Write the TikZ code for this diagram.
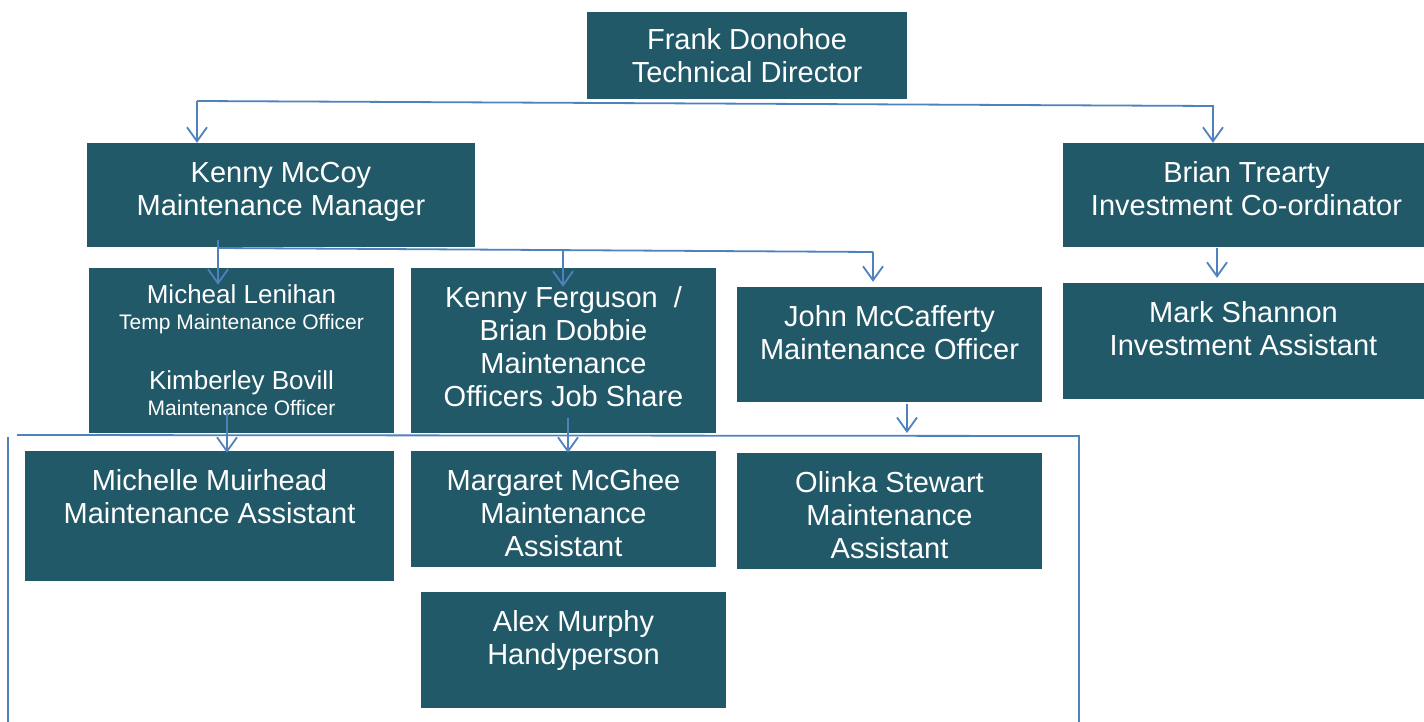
\documentclass[tikz,border=0pt]{standalone}
\usepackage{fontspec}
\setmainfont{Liberation Sans}
\usepackage{xcolor}
\definecolor{box-teal}{RGB}{33,89,104}
\definecolor{link-blue}{RGB}{79,129,189}
\usepackage{tikz}
\usetikzlibrary{arrows.meta}
\newcommand{\boxtext}[4][39.5pt]{\parbox[c][#3][t]{#2}{\centering\rule{0pt}{#1}#4}}
\newcommand{\subrole}[1]{{\fontsize{21}{26}\selectfont #1}}

\begin{document}
\begin{tikzpicture}[x=1pt,y=-1pt,>={Straight Barb[length=14pt,width=20pt]},
	staffbox/.style={fill=box-teal,text=white,inner sep=0pt,
		font=\fontsize{29}{33}\selectfont},
	link/.style={draw=link-blue,line width=1.8pt}]
	\useasboundingbox (0,0) rectangle (1424,722);
	
	\node[staffbox] (frank) at (747,55.5)
		{\boxtext[37.5pt]{320pt}{87pt}{Frank Donohoe\\Technical Director}};
	\node[staffbox] (mccoy) at (281,195)
		{\boxtext{388pt}{104pt}{Kenny McCoy\\Maintenance Manager}};
	\node[staffbox] (trearty) at (1243.5,195)
		{\boxtext{361pt}{104pt}{\hspace*{6pt}Brian Trearty\\\hspace*{6pt}Investment Co-ordinator}};
	\node[staffbox] (shannon) at (1243.5,341)
		{\boxtext{361pt}{116pt}{Mark Shannon\\Investment Assistant}};
	\node[staffbox] (lenihan) at (241.5,350.5)
		{\boxtext[35.5pt]{305pt}{165pt}{\fontsize{26}{26}\selectfont
			Micheal Lenihan\\\subrole{Temp Maintenance Officer}\\[34pt]
			Kimberley Bovill\\\subrole{Maintenance Officer}}};
	\node[staffbox] (ferguson) at (563.5,350.5)
		{\boxtext{305pt}{165pt}{Kenny Ferguson\ \ /\\Brian Dobbie\\
			Maintenance\\Officers Job Share}};
	\node[staffbox] (mccafferty) at (889.5,344.5)
		{\boxtext{305pt}{115pt}{John McCafferty\\Maintenance Officer}};
	\node[staffbox] (muirhead) at (209.5,516)
		{\boxtext{369pt}{130pt}{Michelle Muirhead\\Maintenance Assistant}};
	\node[staffbox] (mcghee) at (563.5,509)
		{\boxtext{305pt}{116pt}{Margaret McGhee\\Maintenance\\Assistant}};
	\node[staffbox] (stewart) at (889.5,511)
		{\boxtext{305pt}{116pt}{Olinka Stewart\\Maintenance\\Assistant}};
	\node[staffbox] (murphy) at (573.5,650)
		{\boxtext{305pt}{116pt}{Alex Murphy\\Handyperson}};
	
%	=======================================

	\coordinate (T1) at (197,101);
	\coordinate (T2) at (1213,106);
	\coordinate (R0) at (1217,248);
	
	\draw[link,->] (T1) -- (T1 |- mccoy.north);
	\draw[link,->] (T1) -- (T2) -- (T2 |- trearty.north);
	\draw[link,->] (R0) -- ([yshift=5pt]shannon.north -| R0);
	
	\coordinate (M0) at (218,240);
	\coordinate (M1) at (218,248);
	\coordinate (M2) at (873,252);
	\coordinate (M3) at (563,250);
	
	\draw[link,->] (M0) -- ([yshift=-17pt]lenihan.north -| M0);
	\draw[link] (M1) -- (M2);
	\draw[link,->] (M3) -- ([yshift=-19pt]ferguson.north -| M3);
	\draw[link,->] (M2) -- ([yshift=5pt]mccafferty.north -| M2);
	
%	=======================================

	\coordinate (B1) at (17,435);
	\coordinate (B2) at (1079,436);
	\coordinate (B3) at (1079,722);
	\coordinate (L1) at (8,437);
	\coordinate (L2) at (8,722);
	
	\draw[link] (B1) -- (B2) -- (B3) (L1) -- (L2);
	
	\coordinate (A1) at (227,410);
	\coordinate (A2) at (568,418);
	\coordinate (A3) at (907,404);
	\coordinate (A4) at (907,433);
	
	\draw[link,->] (A1) -- ([yshift=-2pt]muirhead.north -| A1);
	\draw[link,->] (A2) -- ([yshift=-2pt]mcghee.north -| A2);
	\draw[link,->] (A3) -- (A4);
\end{tikzpicture}
\end{document}
